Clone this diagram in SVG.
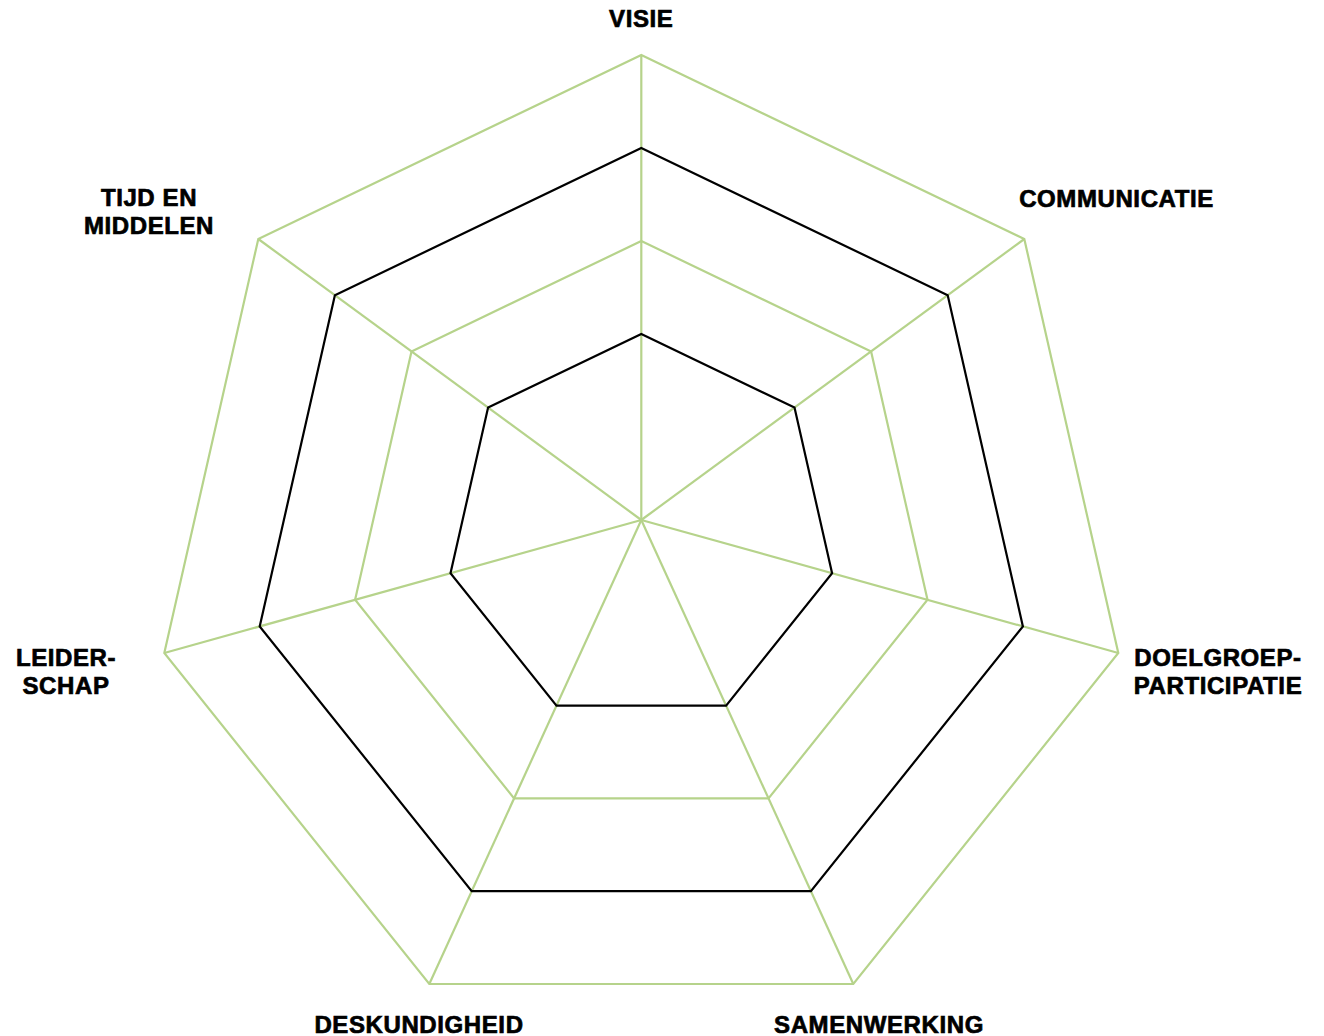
<svg xmlns="http://www.w3.org/2000/svg" width="1324" height="1036" viewBox="0 0 1324 1036">
<style>
.g{fill:none;stroke:#b6d38b;stroke-width:2.2;stroke-linejoin:miter}
.k{fill:none;stroke:#000;stroke-width:2.2;stroke-linejoin:miter}
.t{font-family:"Liberation Sans",Arial,sans-serif;font-weight:bold;font-size:24px;fill:#000;stroke:#000;stroke-width:0.7;letter-spacing:0.6px;text-anchor:middle}
</style>
<rect width="1324" height="1036" fill="#fff"/>
<g id="connectors">
<g id="spokes" class="g">
<line x1="641.3" y1="520" x2="641.3" y2="55"/>
<line x1="641.3" y1="520" x2="1024.3" y2="239"/>
<line x1="641.3" y1="520" x2="1118.3" y2="653"/>
<line x1="641.3" y1="520" x2="853.3" y2="984"/>
<line x1="641.3" y1="520" x2="429.3" y2="984"/>
<line x1="641.3" y1="520" x2="164.3" y2="653"/>
<line x1="641.3" y1="520" x2="258.3" y2="239"/>
</g>
<polygon id="ring100" class="g" points="641.3,55 1024.3,239 1118.3,653 853.3,984 429.3,984 164.3,653 258.3,239"/>
<polygon id="ring60" class="g" points="641.3,241 871.1,351.4 927.5,599.8 768.5,798.4 514.1,798.4 355.1,599.8 411.5,351.4"/>
<polygon id="ring80" class="k" points="641.3,148 947.7,295.2 1022.9,626.4 810.9,891.2 471.7,891.2 259.7,626.4 334.9,295.2"/>
<polygon id="ring40" class="k" points="641.3,334 794.5,407.6 832.1,573.2 726.1,705.6 556.5,705.6 450.5,573.2 488.1,407.6"/>
</g>
<g id="visie"><text class="t" x="641.3" y="27">VISIE</text></g>
<g id="communicatie"><text class="t" x="1116.5" y="207">COMMUNICATIE</text></g>
<g id="doelgroepparticipatie"><text class="t" x="1218" y="666">DOELGROEP-</text><text class="t" x="1218" y="694">PARTICIPATIE</text></g>
<g id="samenwerking"><text class="t" x="879" y="1033">SAMENWERKING</text></g>
<g id="deskundigheid"><text class="t" x="419" y="1033">DESKUNDIGHEID</text></g>
<g id="leiderschap"><text class="t" x="66" y="666">LEIDER-</text><text class="t" x="66" y="694">SCHAP</text></g>
<g id="tijdenmiddelen"><text class="t" x="149" y="206">TIJD EN</text><text class="t" x="149" y="234">MIDDELEN</text></g>
</svg>
